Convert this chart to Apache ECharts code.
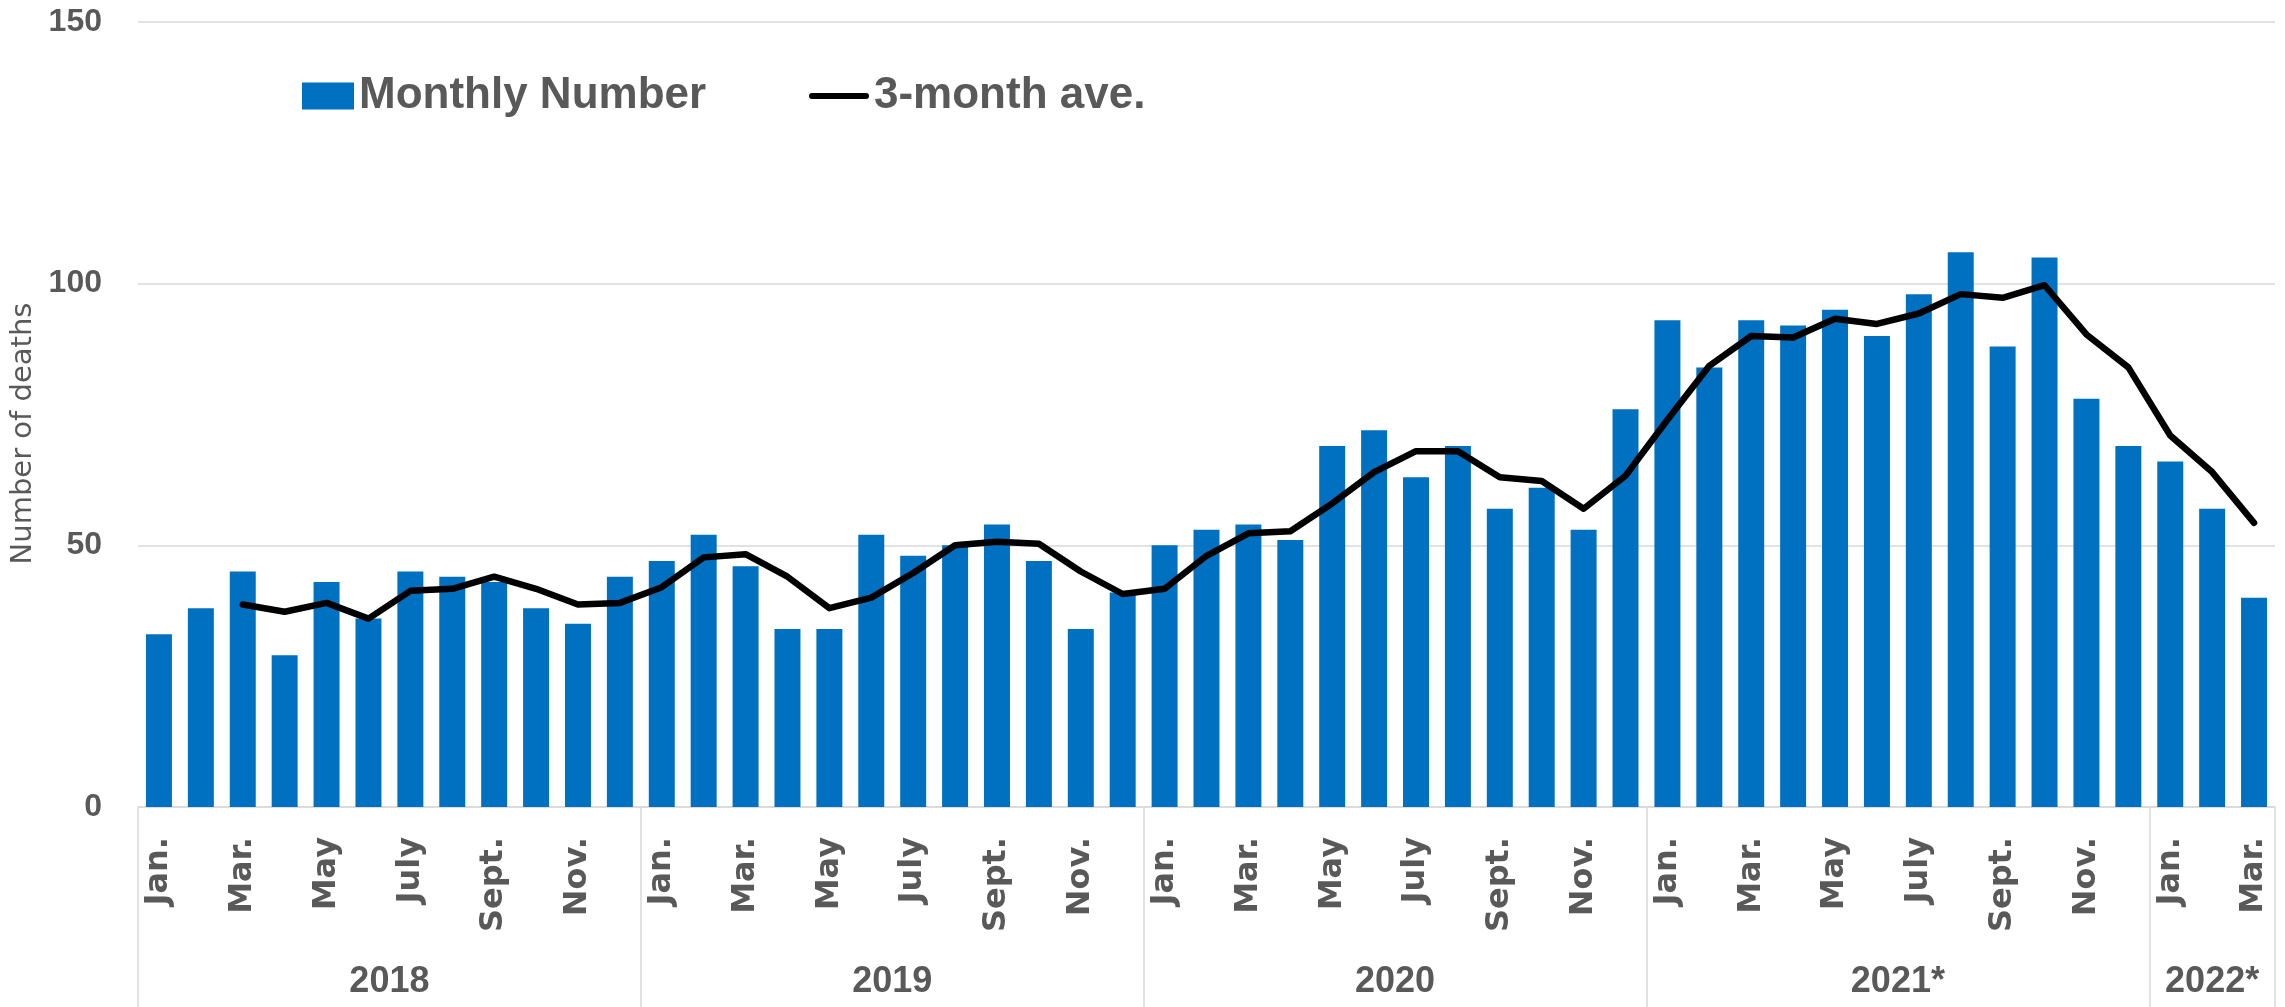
<!DOCTYPE html>
<html>
<head>
<meta charset="utf-8">
<script src="https://cdn.jsdelivr.net/npm/echarts@6/dist/echarts.min.js"></script>
<style>
  html, body { margin: 0; padding: 0; background: #ffffff; }
  #chart { width: 2285px; height: 1007px; }
</style>
</head>
<body>
<div id="chart"></div>
<script>
// Month tick labels (only every other one is shown on the axis)
const monthNames = ['Jan.', 'Feb.', 'Mar.', 'Apr.', 'May', 'June', 'July', 'Aug.', 'Sept.', 'Oct.', 'Nov.', 'Dec.'];
// Year group labels and how many months each group holds
const yearLabels = ['2018', '2019', '2020', '2021*', '2022*'];
const monthsPerYear = [12, 12, 12, 12, 3];

// Monthly number of deaths, Jan. 2018 – Mar. 2022
const monthlyNumber = [
  33, 38, 45, 29, 43, 36, 45, 44, 43, 38, 35, 44,
  47, 52, 46, 34, 34, 52, 48, 50, 54, 47, 34, 41,
  50, 53, 54, 51, 69, 72, 63, 69, 57, 61, 53, 76,
  93, 84, 93, 92, 95, 90, 98, 106, 88, 105, 78, 69,
  66, 57, 40
];

// 3-month average (starts in March 2018)
const threeMonthAve = [
  null, null, 38.7, 37.3, 39.0, 36.0, 41.3, 41.7, 44.0, 41.7, 38.7, 39.0,
  42.0, 47.7, 48.3, 44.0, 38.0, 40.0, 44.7, 50.0, 50.7, 50.3, 45.0, 40.7,
  41.7, 48.0, 52.3, 52.7, 58.0, 64.0, 68.0, 68.0, 63.0, 62.3, 57.0, 63.3,
  74.0, 84.3, 90.0, 89.7, 93.3, 92.3, 94.3, 98.0, 97.3, 99.7, 90.3, 84.0,
  71.0, 64.0, 54.3
];

// Category list: one entry per month across the year groups
const categories = [];
monthsPerYear.forEach(n => { for (let i = 0; i < n; i++) categories.push(monthNames[i]); });

// Year group boundaries and centres on a 0..N scale matching the categories
const boundaries = [0];
monthsPerYear.forEach(n => boundaries.push(boundaries[boundaries.length - 1] + n));
const centres = monthsPerYear.map((n, i) => boundaries[i] + n / 2);
const total = boundaries[boundaries.length - 1];

const grey = '#595959';
const lineGrey = '#d9d9d9';
const boldSans = 'Liberation Sans, Arial, sans-serif';

const chart = echarts.init(document.getElementById('chart'), null, { renderer: 'canvas' });

chart.setOption({
  animation: false,
  backgroundColor: '#ffffff',
  grid: { left: 138, right: 10, top: 22, bottom: 200, containLabel: false },
  legend: [
    {
      data: [{ name: 'Monthly Number', icon: 'rect' }],
      left: 302, top: 74, padding: 0,
      itemWidth: 52, itemHeight: 27, itemGap: 0,
      textStyle: { color: grey, fontSize: 44, fontWeight: 'bold', fontFamily: boldSans }
    },
    {
      // capsule-shaped line marker
      data: [{ name: '3-month ave.', icon: 'path://M3,0 L57,0 A3,3 0 0 1 57,6 L3,6 A3,3 0 0 1 3,0 Z' }],
      left: 809, top: 74, padding: 0,
      itemWidth: 60, itemHeight: 7, itemGap: 0,
      textStyle: { color: grey, fontSize: 44, fontWeight: 'bold', fontFamily: boldSans }
    }
  ],
  xAxis: [
    {
      type: 'category',
      data: categories,
      boundaryGap: true,
      axisLine: { show: true, lineStyle: { color: lineGrey, width: 1.5 } },
      axisTick: { show: false },
      axisLabel: {
        interval: 1,
        rotate: 90,
        margin: 30,
        color: grey,
        fontSize: 32,
        fontWeight: 'bold',
        fontFamily: 'DejaVu Sans, sans-serif'
      },
      splitLine: { show: false }
    },
    {
      type: 'value',
      min: 0,
      max: total,
      position: 'bottom',
      axisLine: { show: false },
      splitLine: { show: false },
      axisTick: {
        show: true,
        customValues: boundaries,
        length: 200,
        lineStyle: { color: lineGrey, width: 1.5 }
      },
      axisLabel: {
        show: true,
        customValues: centres,
        margin: 157,
        color: grey,
        fontSize: 36,
        fontWeight: 'bold',
        fontFamily: boldSans,
        formatter: v => {
          const i = centres.findIndex(c => Math.abs(c - v) < 1e-6);
          return i >= 0 ? yearLabels[i] : '';
        }
      }
    }
  ],
  yAxis: {
    type: 'value',
    min: 0,
    max: 150,
    interval: 50,
    name: 'Number of deaths',
    nameLocation: 'middle',
    nameGap: 94,
    nameTextStyle: { color: grey, fontSize: 29, fontFamily: 'DejaVu Sans, sans-serif', padding: [0, 38, 0, 0] },
    axisLine: { show: false },
    axisTick: { show: false },
    axisLabel: {
      margin: 36,
      color: grey,
      fontSize: 32,
      fontWeight: 'bold',
      fontFamily: boldSans
    },
    splitLine: { show: true, lineStyle: { color: lineGrey, width: 1.5 } }
  },
  series: [
    {
      name: 'Monthly Number',
      type: 'bar',
      xAxisIndex: 0,
      data: monthlyNumber,
      barCategoryGap: '38%',
      itemStyle: { color: '#0070C0' }
    },
    {
      name: '3-month ave.',
      type: 'line',
      xAxisIndex: 0,
      data: threeMonthAve,
      showSymbol: false,
      symbol: 'none',
      connectNulls: false,
      lineStyle: { color: '#000000', width: 6.5, join: 'round', cap: 'round' },
      itemStyle: { color: '#000000' }
    }
  ]
});
</script>
</body>
</html>
